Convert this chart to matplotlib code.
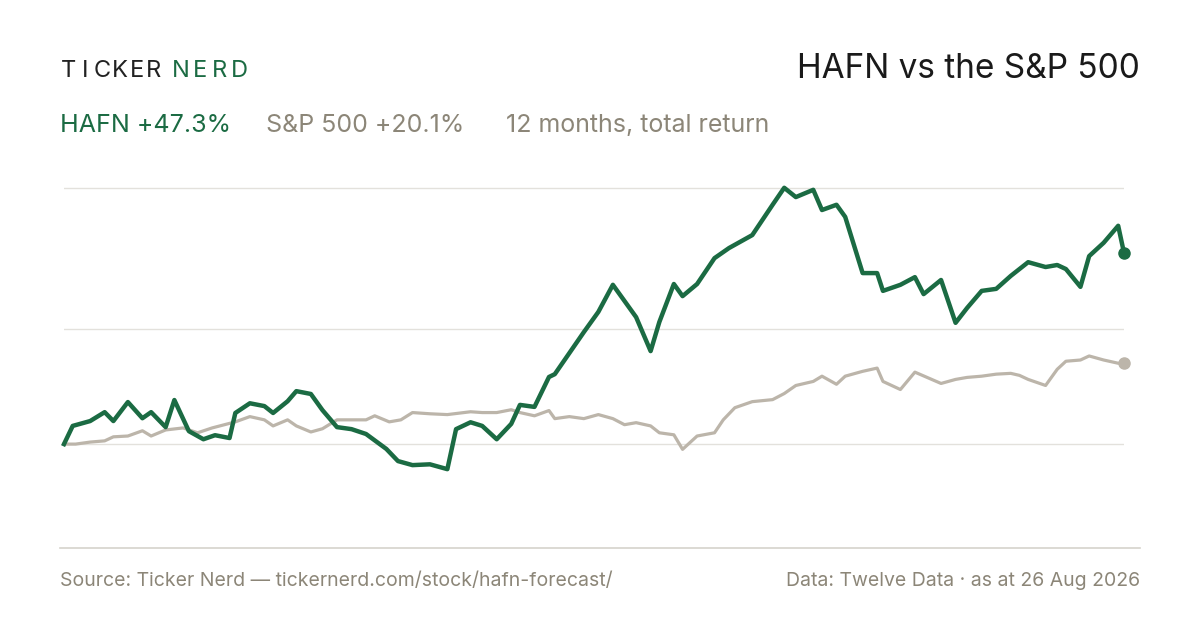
import matplotlib
matplotlib.use("Agg")
import matplotlib.pyplot as plt
from matplotlib.lines import Line2D

hafn_days = [0,3,9,14,17,22,27,30,35,38,43,48,52,57,59,64,69,72,77,80,85,89,94,99,104,111,115,120,126,132,135,140,144,149,154,157,162,167,169,179,184,189,197,202,205,210,213,218,224,229,237,244,248,252,258,261,266,269,275,280,282,288,293,296,302,307,311,316,321,326,332,338,342,345,350,353,358,363,365]
hafn_pct = [0,4.5,5.7,7.9,5.7,10.4,6.4,7.9,4.2,10.9,3.2,1.2,2.2,1.5,7.7,10.1,9.4,7.7,10.6,13.1,12.4,8.4,4.2,3.7,2.5,-1.2,-4.2,-5.2,-5.0,-6.2,3.7,5.4,4.5,1.2,5.0,9.7,9.2,16.6,17.3,27.7,32.7,39.4,31.4,23.0,30.2,39.6,36.6,39.6,46.0,48.5,51.7,59.2,63.4,61.1,62.9,57.9,59.2,56.2,42.3,42.3,37.9,39.4,41.3,37.1,40.6,30.0,33.7,37.9,38.4,41.6,45.0,43.8,44.3,43.3,38.9,46.5,49.8,54.0,47.3]
spx_days = [0,4,9,14,17,22,27,30,35,41,46,51,59,64,69,72,77,80,85,89,94,104,107,112,116,120,126,132,140,144,149,154,157,162,167,169,174,179,184,189,193,197,202,205,210,213,218,224,227,231,237,244,248,252,258,261,266,269,275,280,282,288,293,302,307,311,316,321,326,329,332,338,342,345,350,353,358,363,365]
spx_pct = [0,0,0.5,0.8,1.8,2,3.3,2,3.5,4,2.8,4,5.5,6.8,6,4.5,6,4.5,3,3.8,6,6,7,5.5,6,7.8,7.5,7.3,8,7.8,7.8,8.5,7.8,7,8.3,6.3,6.8,6.3,7.3,6.3,4.8,5.3,4.5,2.8,2.3,-1.3,2,2.8,6,9,10.5,11,12.5,14.5,15.5,16.8,14.8,16.8,18,18.8,15.5,13.5,17.8,15,16,16.5,16.8,17.3,17.5,17,16,14.5,18.5,20.5,20.8,21.8,20.8,20,20.1]
grid_vals = [0, 28.5, 63.4]

GREEN = "#1b6b43"
GREY = "#bcb5aa"
TXT = "#8c8678"
plt.rcParams["font.family"] = ["Inter", "DejaVu Sans"]

fig = plt.figure(figsize=(12, 6.3), dpi=100)
fig.patch.set_facecolor("white")
W, H = 1200, 630
ax = fig.add_axes([64/W, 1-548/H, 1060/W, (548-170)/H])
ax.set_xlim(0, 365)
ax.set_ylim(-25.7, 67.8)
for g in grid_vals:
    ax.axhline(g, color="#e3e1dc", lw=1, zorder=0)
ax.plot(spx_days, spx_pct, color=GREY, lw=2.3, solid_joinstyle="round", clip_on=False)
ax.plot(spx_days[-1:], spx_pct[-1:], "o", color=GREY, ms=8, clip_on=False)
ax.plot(hafn_days, hafn_pct, color=GREEN, lw=3.2, solid_joinstyle="round", clip_on=False)
ax.plot(hafn_days[-1:], hafn_pct[-1:], "o", color=GREEN, ms=8, clip_on=False)
ax.axis("off")

fig.add_artist(Line2D([60/W, 1140/W], [1-548/H]*2, color="#d6d3cc", lw=1.2))

for i, ch in enumerate("TICKER"):
    fig.text((68.5 + i*17.0)/W, 1-71/H, ch, fontsize=17, color="#222222", va="center", ha="center")
for i, ch in enumerate("NERD"):
    fig.text((180.5 + i*19.5)/W, 1-71/H, ch, fontsize=17, color=GREEN, va="center", ha="center")
fig.text(1140/W, 1-69/H, "HAFN vs the S&P 500", fontsize=24, color="#1a1a1a", ha="right", va="center")
fig.text(60/W, 1-125/H, "HAFN +47.3%", fontsize=18, color=GREEN, va="center")
fig.text(266/W, 1-125/H, "S&P 500 +20.1%", fontsize=18, color=TXT, va="center")
fig.text(506/W, 1-125/H, "12 months, total return", fontsize=18, color=TXT, va="center")
fig.text(60/W, 1-581/H, "Source: Ticker Nerd — tickernerd.com/stock/hafn-forecast/", fontsize=14, color=TXT, va="center")
fig.text(1140/W, 1-581/H, "Data: Twelve Data · as at 26 Aug 2026", fontsize=14, color=TXT, va="center", ha="right")

fig.savefig("out.png", dpi=100)
